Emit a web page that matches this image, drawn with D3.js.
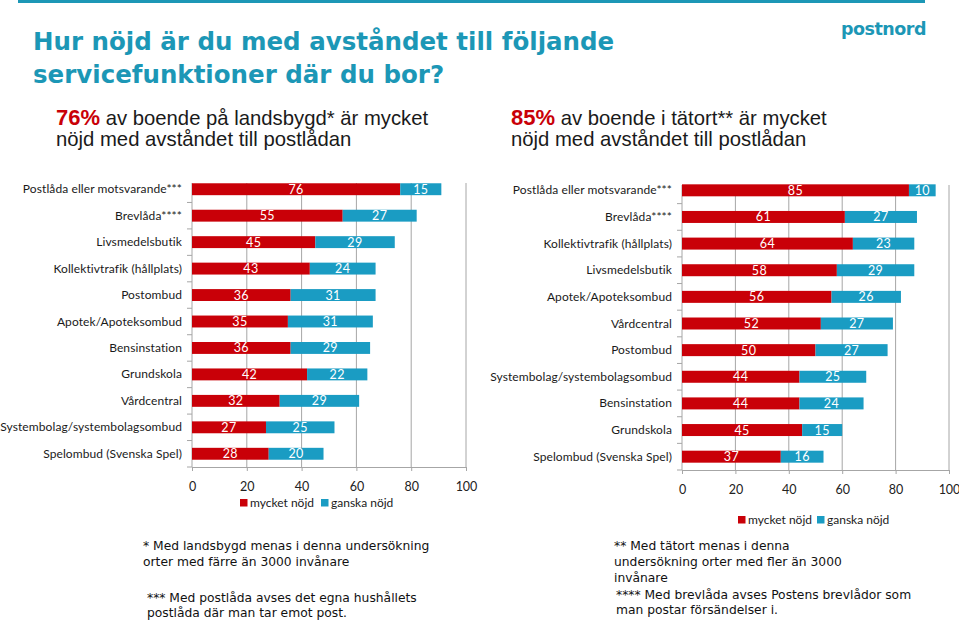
<!DOCTYPE html>
<html><head><meta charset="utf-8">
<script src="https://cdn.jsdelivr.net/npm/d3@7"></script>
<style>body{margin:0;background:#fff} svg{display:block}</style>
</head>
<body>
<svg id="c" width="959" height="620"></svg>
<script>
// ---- data ----
const leftCategories = ["Postlåda eller motsvarande***","Brevlåda****","Livsmedelsbutik","Kollektivtrafik (hållplats)","Postombud","Apotek/Apoteksombud","Bensinstation","Grundskola","Vårdcentral","Systembolag/systembolagsombud","Spelombud (Svenska Spel)"];
const leftVery   = [76,55,45,43,36,35,36,42,32,27,28];
const leftFairly = [15,27,29,24,31,31,29,22,29,25,20];

const rightCategories = ["Postlåda eller motsvarande***","Brevlåda****","Kollektivtrafik (hållplats)","Livsmedelsbutik","Apotek/Apoteksombud","Vårdcentral","Postombud","Systembolag/systembolagsombud","Bensinstation","Grundskola","Spelombud (Svenska Spel)"];
const rightVery   = [85,61,64,58,56,52,50,44,44,45,37];
const rightFairly = [10,27,23,29,26,27,27,25,24,15,16];

const xTicks = [0,20,40,60,80,100];
const seriesNames = ["mycket nöjd","ganska nöjd"];

// ---- style ----
const RED = "#C90008", TEAL = "#1A9CC3", TITLE = "#1C97B6", GRID = "#A6A6A6";
const LABEL_FONT = "Lato, 'Open Sans', sans-serif";

const svg = d3.select("#c");

// top rule
svg.append("rect").attr("x",18).attr("y",0).attr("width",907).attr("height",3).attr("fill",TITLE);

// logo
svg.append("text").attr("x",926).attr("y",35).attr("text-anchor","end")
  .attr("font-family","'DejaVu Sans', sans-serif").attr("font-weight","bold")
  .attr("font-size",17.5).attr("letter-spacing",-0.5).attr("fill",TITLE).text("postnord");

// title
const title = svg.append("text").attr("font-family","'DejaVu Sans', Verdana, sans-serif")
  .attr("font-weight","bold").attr("font-size",24.5).attr("fill",TITLE);
title.append("tspan").attr("x",33).attr("y",50).text("Hur nöjd är du med avståndet till följande");
title.append("tspan").attr("x",33).attr("y",83).text("servicefunktioner där du bor?");

// subtitles
function subtitle(x, pct, l1, l2){
  const t = svg.append("text").attr("font-family","'Liberation Sans', Arial, sans-serif")
    .attr("font-size",20.3).attr("fill","#1a1a1a");
  const a = t.append("tspan").attr("x",x).attr("y",125);
  a.append("tspan").attr("font-weight","bold").attr("fill",RED).attr("font-size",22).text(pct);
  a.append("tspan").text(l1);
  t.append("tspan").attr("x",x).attr("y",146).text(l2);
}
subtitle(56,"76%"," av boende på landsbygd* är mycket","nöjd med avståndet till postlådan");
subtitle(511,"85%"," av boende i tätort** är mycket","nöjd med avståndet till postlådan");

// panels
function drawPanel(cfg){
  const x = d3.scaleLinear().domain([0,100]).range([cfg.x0,cfg.x1]);
  const y = d3.scaleBand().domain(cfg.cats).range([cfg.yTop,cfg.yBot]).paddingInner(0.55).paddingOuter(0.275);
  const g = svg.append("g");
  // gridlines
  g.selectAll("line.grid").data(xTicks).join("line")
    .attr("x1",d=>x(d)).attr("x2",d=>x(d)).attr("y1",cfg.gridTop).attr("y2",cfg.yBot)
    .attr("stroke",GRID).attr("stroke-width",1);
  // x axis
  const xa = g.append("g").attr("transform",`translate(0,${cfg.yBot})`)
    .call(d3.axisBottom(x).tickValues(xTicks).tickSize(4).tickPadding(11));
  xa.select(".domain").attr("stroke",GRID);
  xa.selectAll(".tick line").attr("stroke",GRID);
  xa.selectAll("text").attr("font-family",LABEL_FONT).attr("font-size",12.5).attr("fill","#222");
  // y axis band ticks
  const bounds = cfg.cats.map((c,i)=>cfg.yTop + i*y.step()).slice(1);
  g.selectAll("line.yt").data(bounds.concat([cfg.yBot])).join("line")
    .attr("x1",cfg.x0-5).attr("x2",cfg.x0).attr("y1",d=>d).attr("y2",d=>d).attr("stroke",GRID);
  // category labels
  g.selectAll("text.cat").data(cfg.cats).join("text")
    .attr("x",cfg.x0-10).attr("y",d=>y(d)+y.bandwidth()/2+4)
    .attr("text-anchor","end").attr("font-family",LABEL_FONT).attr("font-size",12)
    .attr("letter-spacing",0.1).attr("fill","#1a1a1a").text(d=>d);
  // bars
  const rows = cfg.cats.map((c,i)=>({c, a:cfg.very[i], b:cfg.fairly[i]}));
  g.selectAll("rect.a").data(rows).join("rect")
    .attr("x",x(0)).attr("y",d=>y(d.c)).attr("width",d=>x(d.a)-x(0)).attr("height",y.bandwidth()).attr("fill",RED);
  g.selectAll("rect.b").data(rows).join("rect")
    .attr("x",d=>x(d.a)).attr("y",d=>y(d.c)).attr("width",d=>x(d.a+d.b)-x(d.a)).attr("height",y.bandwidth()).attr("fill",TEAL);
  // value labels
  const lab = (sel, fx, fv) => sel.attr("x",fx).attr("y",d=>y(d.c)+y.bandwidth()/2+4.5)
    .attr("text-anchor","middle").attr("font-family",LABEL_FONT).attr("font-size",12.5)
    .attr("letter-spacing",0.4).attr("fill","#fff").text(fv);
  lab(g.selectAll("text.va").data(rows).join("text"), d=>(x(0)+x(d.a))/2, d=>d.a);
  lab(g.selectAll("text.vb").data(rows).join("text"), d=>(x(d.a)+x(d.a+d.b))/2, d=>d.b);
  // legend
  const colors=[RED,TEAL];
  seriesNames.forEach((n,i)=>{
    const lx = cfg.legX[i];
    g.append("rect").attr("x",lx).attr("y",cfg.legY-4).attr("width",7.5).attr("height",7.5).attr("fill",colors[i]);
    g.append("text").attr("x",lx+10).attr("y",cfg.legY+4).attr("font-family",LABEL_FONT)
      .attr("font-size",12).attr("fill","#1a1a1a").text(n);
  });
}

drawPanel({cats:leftCategories, very:leftVery, fairly:leftFairly,
  x0:192, x1:466, yTop:176, yBot:467, gridTop:183, legX:[240,321], legY:503});
drawPanel({cats:rightCategories, very:rightVery, fairly:rightFairly,
  x0:682, x1:949, yTop:177, yBot:470, gridTop:185, legX:[738,817], legY:520});

// footnotes
function note(x, ys, lines){
  const t = svg.append("text").attr("font-family","'DejaVu Sans', Verdana, sans-serif")
    .attr("font-size",12.3).attr("fill","#111");
  lines.forEach((l,i)=>t.append("tspan").attr("x",x).attr("y",ys[i]).text(l));
}
note(143,[550,566],["* Med landsbygd menas i denna undersökning","orter med färre än 3000 invånare"]);
note(147,[602,617],["*** Med postlåda avses det egna hushållets","postlåda där man tar emot post."]);
note(614,[550,566,582],["** Med tätort menas i denna","undersökning orter med fler än 3000","invånare"]);
note(616,[599,614],["**** Med brevlåda avses Postens brevlådor som","man postar försändelser i."]);
</script>
</body></html>
